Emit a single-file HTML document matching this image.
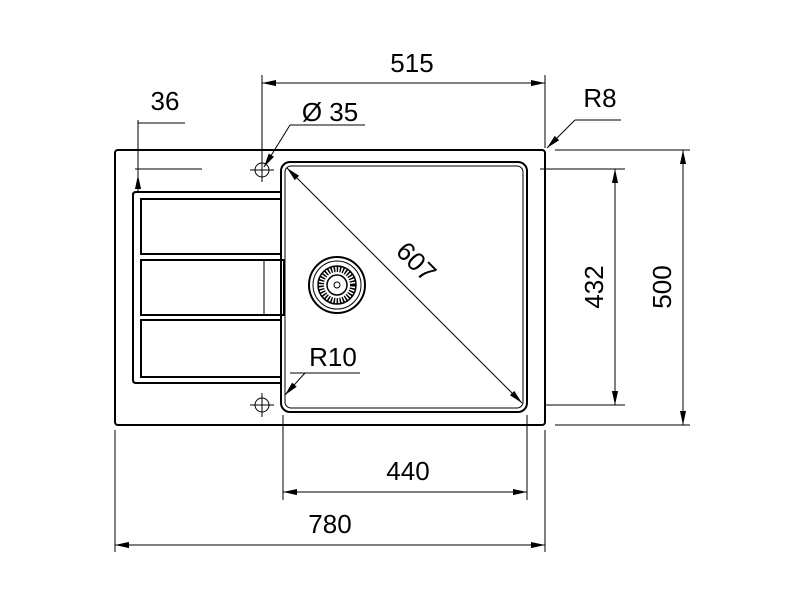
<!DOCTYPE html><html><head><style>body{margin:0;background:#fff}</style></head><body>
<svg width="800" height="600" xmlns="http://www.w3.org/2000/svg" font-family="Liberation Sans, sans-serif">
<defs><marker id="a" viewBox="0 0 16 8" refX="16" refY="4" markerWidth="16" markerHeight="7" markerUnits="userSpaceOnUse" orient="auto-start-reverse"><path d="M0 0.5 L16 4 L0 7.5z" fill="#000"/></marker></defs>
<g fill="none" stroke="#000">
<rect x="115" y="150" width="430" height="275" rx="3" stroke-width="2"/>
<path d="M281 192 H136 Q133 192 133 195 V380 Q133 383 136 383 H281" stroke-width="2"/>
<rect x="141" y="199" width="140" height="55" stroke-width="2"/>
<rect x="141" y="260" width="143" height="55" stroke-width="2"/>
<rect x="141" y="320" width="140" height="57" stroke-width="2"/>
<line x1="264" y1="260" x2="264" y2="315" stroke-width="1"/>
<rect x="281" y="162" width="246" height="250" rx="9" stroke-width="2"/>
<rect x="285" y="166" width="238" height="242" rx="6" stroke-width="1"/>
<circle cx="337" cy="285" r="28" stroke-width="2"/>
<circle cx="337" cy="285" r="24" stroke-width="1"/>
<circle cx="337" cy="285" r="19" stroke-width="1.5"/>
<circle cx="337" cy="285" r="16" stroke-width="6" stroke-dasharray="1.5 1.5"/>
<circle cx="337" cy="285" r="10" stroke-width="1.5"/>
<circle cx="337" cy="285" r="3" stroke-width="1"/>
<circle cx="262" cy="170" r="7" stroke-width="1"/><path d="M250 170H274M262 158V182" stroke-width="1"/>
<circle cx="262" cy="405" r="7" stroke-width="1"/><path d="M250 405H274M262 393V417" stroke-width="1"/>
<g stroke-width="1">
<path d="M262 75V160M545 75V148"/>
<line x1="262" y1="83" x2="545" y2="83" marker-start="url(#a)" marker-end="url(#a)"/>
<path d="M115 430V552M545 430V552"/>
<line x1="115" y1="545" x2="545" y2="545" marker-start="url(#a)" marker-end="url(#a)"/>
<path d="M283 415V500M527 415V500"/>
<line x1="283" y1="492" x2="527" y2="492" marker-start="url(#a)" marker-end="url(#a)"/>
<path d="M540 169H625M545 405H625"/>
<line x1="615" y1="169" x2="615" y2="405" marker-start="url(#a)" marker-end="url(#a)"/>
<path d="M555 150H690M555 425H690"/>
<line x1="683" y1="150" x2="683" y2="425" marker-start="url(#a)" marker-end="url(#a)"/>
<path d="M138 123H185M138 120V190M135 169H202"/>
<line x1="138" y1="175" x2="138" y2="191" marker-end="url(#a)" transform="rotate(180 138 183)"/>
<path d="M290 125H365"/>
<line x1="290" y1="125" x2="264" y2="167" marker-end="url(#a)"/>
<path d="M575 120H621"/>
<line x1="575" y1="120" x2="547" y2="148" marker-end="url(#a)"/>
<line x1="287" y1="168" x2="522" y2="403" marker-start="url(#a)" marker-end="url(#a)"/>
<path d="M290 373H360"/>
<line x1="305" y1="373" x2="285" y2="395" marker-end="url(#a)"/>
</g></g>
<g font-size="26" fill="#000" text-anchor="middle">
<text x="412" y="72">515</text>
<text x="165" y="110">36</text>
<text x="330" y="121">Ø 35</text>
<text x="600" y="107">R8</text>
<text x="333" y="366">R10</text>
<text x="408" y="480">440</text>
<text x="330" y="533">780</text>
<text transform="translate(603,287) rotate(-90)">432</text>
<text transform="translate(671,287) rotate(-90)">500</text>
<text transform="translate(410,268) rotate(45)">607</text>
</g>
</svg></body></html>
